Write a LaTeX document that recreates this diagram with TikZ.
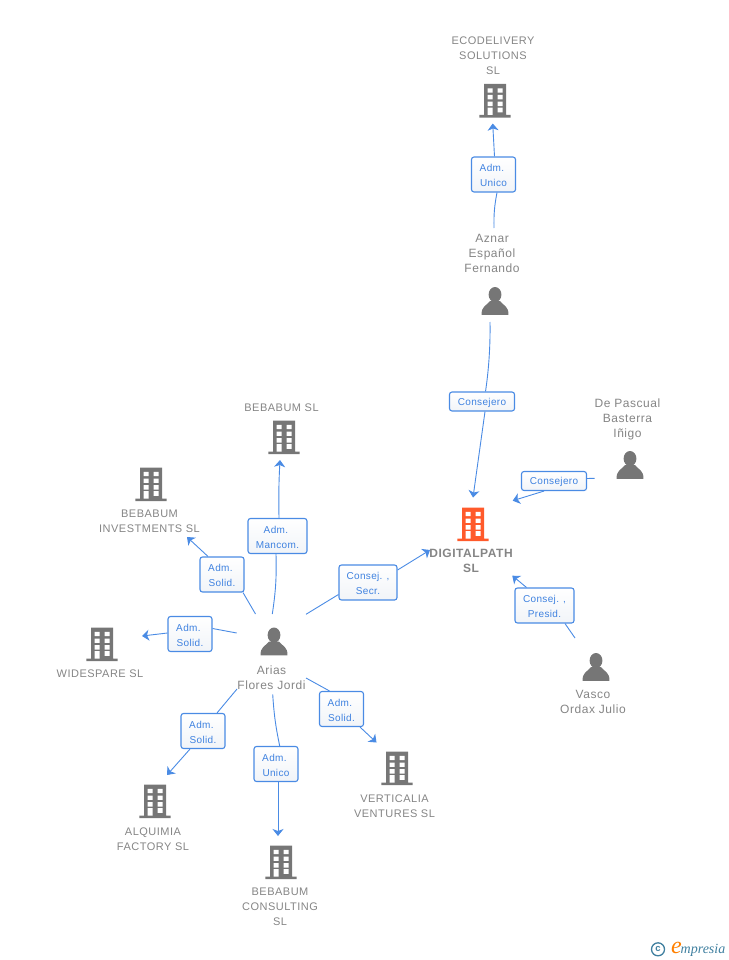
\documentclass[tikz,border=0pt]{standalone}
\usepackage{fontspec}
\setmainfont{Liberation Sans}
\newfontfamily\spacedfont[LetterSpace=4.5]{Liberation Sans}
\newfontfamily\edgefont[LetterSpace=3.5]{Liberation Sans}
\newfontfamily\logofont{Liberation Serif}
\usetikzlibrary{arrows.meta, positioning}
\definecolor{linkblue}{HTML}{4A8BE4}
\definecolor{roletext}{HTML}{3F82E0}
\definecolor{rolefill}{HTML}{F1F4F8}
\definecolor{textgray}{HTML}{858585}
\definecolor{icongray}{HTML}{767676}
\definecolor{mainorange}{HTML}{FF5A2B}
\definecolor{logoteal}{HTML}{3F7F9F}
\newcommand{\roletwo}[2]{\begin{tabular}{@{}c@{}}\rule{0pt}{13.5pt}#1 \\ #2 \end{tabular}}
\tikzset{
  building/.style={minimum width=32, minimum height=34, inner sep=0, path picture={
    \fill [#1] (-11,-17) rectangle (11,14) (-15.7,14) rectangle (15.7,16.7);
    \foreach \ypos in {-12.7, -6, 0.7} {
      \fill [white] (-7.3,\ypos) rectangle ++(5,4.4) (2.7,\ypos) rectangle ++(5,4.4);
    }
    \fill [white] (-7.3,6.7) rectangle (-2.3,14) (2.7,6.7) rectangle (7.7,11.3);
  }},
  person/.style={minimum width=28, minimum height=28, inner sep=0, path picture={
    \fill [icongray] (0,-6.4) ellipse (6.4 and 7.6);
    \fill [icongray] (-13.4,13.8) .. controls (-13.8,5.5) and (-9,5) .. (-5,0) -- (5,0) .. controls (9,5) and (13.8,5.5) .. (13.4,13.8) -- cycle;
  }}
}
\tikzstyle{namelabel} = [text=textgray, inner sep=0, align=center, font=\spacedfont\fontsize{12}{15}\selectfont]
\tikzstyle{firmlabel} = [text=textgray, inner sep=0, align=center, font=\spacedfont\fontsize{11}{15}\selectfont]
\tikzstyle{rolebox} = [rectangle, rounded corners=2.5, draw=linkblue, line width=1.1, top color=white, bottom color=rolefill, text=roletext, inner sep=0, minimum width=44, minimum height=35, text centered, font=\edgefont\fontsize{10}{15}\selectfont]
\tikzstyle{roleflat} = [rolebox, minimum width=65, minimum height=19, text height=9.2, text depth=2]
\tikzstyle{link} = [draw=linkblue, line width=0.9]
\tikzstyle{arrow} = [link, -{Stealth[length=7, width=11, inset=2]}]

\begin{document}
\begin{tikzpicture}[x=1pt, y=-1pt]
\useasboundingbox (0,0) rectangle (728,960);

% companies
\node at (495, 101) (ecodelivery) [building=icongray] {};
\node at (284, 437.5) (bebabum) [building=icongray] {};
\node at (151, 484.5) (investments) [building=icongray] {};
\node at (102, 644.5) (widespare) [building=icongray] {};
\node at (155, 801.5) (alquimia) [building=icongray] {};
\node at (281, 862.5) (consulting) [building=icongray] {};
\node at (397, 768.5) (verticalia) [building=icongray] {};
\node at (473, 524.5) (digitalpath) [building=mainorange] {};

% people
\node at (495, 301) (aznar) [person] {};
\node at (630, 465) (depascual) [person] {};
\node at (596, 667) (vasco) [person] {};
\node at (274, 641.5) (arias) [person] {};

% texts
\node at (493, 55.5) (ecodeliverytext) [firmlabel] {ECODELIVERY\\SOLUTIONS\\SL};
\node at (281.5, 408) (bebabumtext) [firmlabel] {BEBABUM SL};
\node at (149.5, 521.5) (investmentstext) [firmlabel] {BEBABUM\\INVESTMENTS SL};
\node at (100, 674) (widesparetext) [firmlabel] {WIDESPARE SL};
\node at (153, 839.5) (alquimiatext) [firmlabel] {ALQUIMIA\\FACTORY SL};
\node at (280, 907) (consultingtext) [firmlabel] {BEBABUM\\CONSULTING\\SL};
\node at (394.5, 806.5) (verticaliatext) [firmlabel] {VERTICALIA\\VENTURES SL};
\node at (471, 561) (digitalpathtext) [firmlabel, font=\spacedfont\bfseries\fontsize{12}{15}\selectfont] {DIGITALPATH\\SL};
\node at (492, 253) (aznartext) [namelabel] {Aznar\\Español\\Fernando};
\node at (627.5, 419) (depascualtext) [namelabel] {De Pascual\\Basterra\\Iñigo};
\node at (593, 702) (vascotext) [namelabel] {Vasco\\Ordax Julio};
\node at (271.5, 678) (ariastext) [namelabel] {Arias\\Flores Jordi};

% roles
\node at (493.5, 174.5) (roleeco) [rolebox] {\roletwo{Adm.~}{Unico}};
\node at (482, 401.5) (roleaznar) [roleflat] {Consejero};
\node at (554, 481) (rolepascual) [roleflat] {Consejero};
\node at (544.5, 605.5) (rolevasco) [rolebox, minimum width=59] {\roletwo{Consej. ,}{Presid.}};
\node at (277.5, 536) (rolemancom) [rolebox, minimum width=59] {\roletwo{Adm.~}{Mancom.}};
\node at (222, 574.5) (roleinvest) [rolebox] {\roletwo{Adm.~}{Solid.}};
\node at (368, 582.5) (rolesecr) [rolebox, minimum width=58] {\roletwo{Consej. ,}{Secr.}};
\node at (190, 634) (rolewide) [rolebox] {\roletwo{Adm.~}{Solid.}};
\node at (203, 731) (rolealq) [rolebox] {\roletwo{Adm.~}{Solid.}};
\node at (276, 764) (roleunico) [rolebox] {\roletwo{Adm.~}{Unico}};
\node at (341.5, 709) (rolevert) [rolebox] {\roletwo{Adm.~}{Solid.}};

% free ends of the connectors
\coordinate (aznarup) at (494, 228);
\coordinate (aznardown) at (490, 322);
\coordinate (pascualout) at (594.5, 478.3);
\coordinate (vascoout) at (575, 638);
\coordinate (ariasa) at (306, 614.3);
\coordinate (ariasb) at (272.3, 614);
\coordinate (ariasc) at (255.5, 614);
\coordinate (ariasd) at (236.7, 633);
\coordinate (ariase) at (237, 689);
\coordinate (ariasf) at (272.7, 694.3);
\coordinate (ariasg) at (306, 678);
\coordinate (tipeco) at (492.7, 123.5);
\coordinate (tipdigitala) at (473, 497.5);
\coordinate (tipdigitalb) at (512.7, 500.7);
\coordinate (tipdigitalc) at (512.3, 575.7);
\coordinate (tipdigitald) at (430, 550);
\coordinate (tipbebabum) at (280, 460);
\coordinate (tipinvest) at (187, 537);
\coordinate (tipwide) at (142, 636);
\coordinate (tipalq) at (167, 775);
\coordinate (tipconsult) at (278, 836);
\coordinate (tipvert) at (376.5, 742.5);

\draw [link] (aznarup) to[bend left=6] ([xshift=3.5]roleeco.south);
\draw [arrow] ([xshift=1]roleeco.north) -- (tipeco);
\draw [link] (aznardown) .. controls (490.5, 350) and (488, 375) .. ([xshift=3.5]roleaznar.north);
\draw [arrow] ([xshift=3]roleaznar.south) -- (tipdigitala);
\draw [link] (pascualout) -- ([yshift=2.5]rolepascual.east);
\draw [arrow] ([xshift=-10]rolepascual.south) -- (tipdigitalb);
\draw [link] (vascoout) -- ([xshift=20.5]rolevasco.south);
\draw [arrow] ([xshift=-18]rolevasco.north) -- (tipdigitalc);
\draw [link] (ariasa) -- ([yshift=-12]rolesecr.west);
\draw [arrow] ([yshift=12.5]rolesecr.east) -- (tipdigitald);
\draw [link] (ariasb) to[bend right=5] ([xshift=-1.5]rolemancom.south);
\draw [arrow] ([xshift=1.5]rolemancom.north) to[bend left=2] (tipbebabum);
\draw [link] (ariasc) -- ([xshift=21]roleinvest.south);
\draw [arrow] ([xshift=-14]roleinvest.north) -- (tipinvest);
\draw [link] (ariasd) -- ([yshift=5.5]rolewide.east);
\draw [arrow] ([yshift=1]rolewide.west) -- (tipwide);
\draw [link] (ariase) -- ([xshift=14]rolealq.north);
\draw [arrow] ([xshift=-13]rolealq.south) -- (tipalq);
\draw [link] (ariasf) to[bend right=4] ([xshift=3.7]roleunico.north);
\draw [arrow] ([xshift=2]roleunico.south) -- (tipconsult);
\draw [link] (ariasg) -- ([xshift=-12]rolevert.north);
\draw [arrow] ([xshift=18.5]rolevert.south) -- (tipvert);

% logo
\node at (658, 949.3) (logoc) [circle, draw=logoteal, line width=1.3, minimum size=13, inner sep=0, text=logoteal, font=\bfseries\fontsize{9.5}{9.5}\selectfont] {c};
\node at (676.5, 947.5) (logoe) [inner sep=0, text=orange, font=\logofont\itshape\fontsize{24}{24}\selectfont] {e};
\node at (703, 950) (logotext) [inner sep=0, text=logoteal, font=\logofont\itshape\fontsize{14}{14}\selectfont] {mpresia};

\end{tikzpicture}
\end{document}
